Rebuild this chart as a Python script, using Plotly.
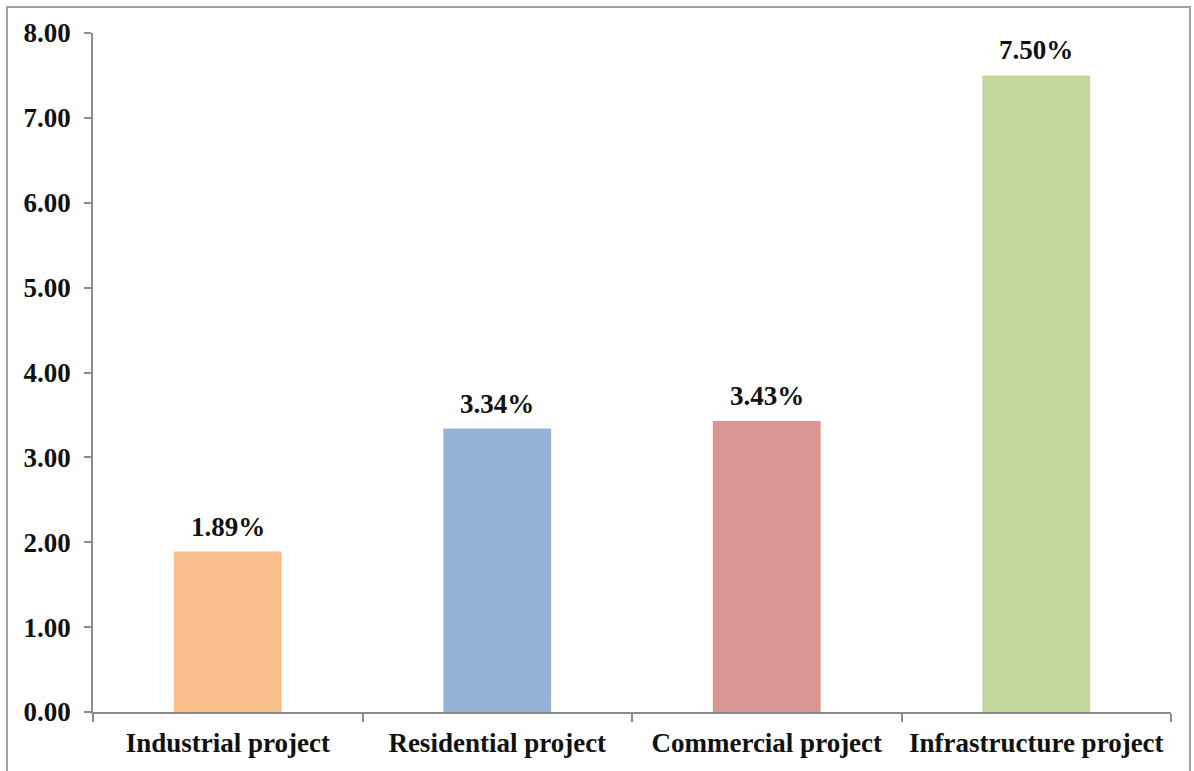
import plotly.graph_objects as go

# Share of cost by project type
categories = ["Industrial project", "Residential project", "Commercial project", "Infrastructure project"]
values = [1.89, 3.34, 3.43, 7.50]
bar_colors = ["#F9BE8C", "#95B3D7", "#D99694", "#C3D69B"]
y_ticks = [0, 1, 2, 3, 4, 5, 6, 7, 8]
y_tick_labels = [f"{v:.2f}" for v in y_ticks]

FONT = "Liberation Serif"
TXT = dict(family=FONT, size=27, color="#111111", weight="bold")

fig = go.Figure(
    go.Bar(
        x=categories,
        y=values,
        marker=dict(color=bar_colors, line=dict(width=0)),
        hoverinfo="x+y",
    )
)

# value labels sit a little above each bar
for cat, v in zip(categories, values):
    fig.add_annotation(
        x=cat,
        y=v,
        text=f"{v:.2f}%",
        showarrow=False,
        yanchor="bottom",
        yshift=8,
        font=TXT,
    )

# plot-area edges in pixels, used to place the outer frame in paper units
L, R, T, B = 93, 1171, 33, 712
W, H = R - L, B - T

fig.update_layout(
    width=1194,
    height=771,
    margin=dict(l=L, r=1194 - R, t=T, b=771 - B, autoexpand=False),
    paper_bgcolor="white",
    plot_bgcolor="white",
    bargap=0.6,
    showlegend=False,
    font=TXT,
    xaxis=dict(
        showline=True,
        linecolor="#8c8c8c",
        linewidth=1.5,
        ticks="outside",
        tickson="boundaries",
        ticklen=8,
        tickcolor="#8c8c8c",
        tickwidth=1.5,
        tickfont=TXT,
        tickangle=0,
        automargin=False,
        ticklabelstandoff=6,
        showgrid=False,
    ),
    yaxis=dict(
        range=[0, 8],
        tickvals=y_ticks,
        ticktext=y_tick_labels,
        showline=True,
        linecolor="#8c8c8c",
        linewidth=1.5,
        ticks="outside",
        ticklen=7,
        tickcolor="#8c8c8c",
        tickwidth=1.5,
        tickfont=TXT,
        automargin=False,
        ticklabelstandoff=8,
        showgrid=False,
        zeroline=False,
    ),
    shapes=[
        dict(
            type="rect",
            xref="paper",
            yref="paper",
            x0=(7 - L) / W,
            x1=(1190 - L) / W,
            y0=(B - 780) / H,
            y1=(B - 7) / H,
            line=dict(color="#a0a0a0", width=2),
            fillcolor="rgba(0,0,0,0)",
            layer="below",
        )
    ],
)

fig.write_html("out.html")
